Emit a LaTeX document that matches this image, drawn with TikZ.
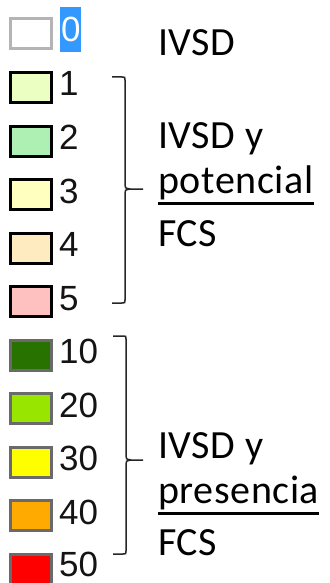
\documentclass[tikz,border=0pt]{standalone}
\usepackage{fontspec}
\setmainfont{Carlito}
\newfontfamily\digfont{Liberation Sans}
\newfontfamily\lblfont[LetterSpace=1.5]{Carlito}
\definecolor{cA}{HTML}{EBFFC3}
\definecolor{cB}{HTML}{AEF0B4}
\definecolor{cC}{HTML}{FFFFC0}
\definecolor{cD}{HTML}{FFEBC0}
\definecolor{cE}{HTML}{FFC0C0}
\definecolor{cF}{HTML}{287300}
\definecolor{cG}{HTML}{98E600}
\definecolor{cH}{HTML}{FFFF00}
\definecolor{cI}{HTML}{FFAA00}
\definecolor{cJ}{HTML}{FF0000}
\definecolor{hiblue}{HTML}{3399FF}
\definecolor{gborder}{HTML}{6A6A6A}
\definecolor{lborder}{HTML}{B4B4B4}
\begin{document}
\begin{tikzpicture}[x=1pt,y=-1pt,
  swatch/.style={draw, line width=3pt, minimum width=41pt, minimum height=30pt, inner sep=0pt, anchor=north west},
  digit/.style={font=\digfont\fontsize{35}{35}\selectfont, text=black!92, inner sep=0pt, anchor=base west},
  lbl/.style={font=\lblfont\fontsize{40}{40}\selectfont, text=black, inner sep=0pt, anchor=base west},
  bracestyle/.style={line width=1.5pt, draw=black!85}]
\useasboundingbox (0,0) rectangle (329,583);
% highlight behind 0
\fill[hiblue] (60,7) rectangle (81,52);
% swatches
\node[swatch, draw=lborder, fill=white] (s0) at (8.5,17.5) {};
\node[swatch, draw=black, fill=cA] (s1) at (8.5,71) {};
\node[swatch, draw=black, fill=cB] (s2) at (8.5,124.5) {};
\node[swatch, draw=black, fill=cC] (s3) at (8.5,178) {};
\node[swatch, draw=black, fill=cD] (s4) at (8.5,231.5) {};
\node[swatch, draw=black, fill=cE] (s5) at (8.5,285) {};
\node[swatch, draw=gborder, fill=cF] (s10) at (8.5,338.5) {};
\node[swatch, draw=gborder, fill=cG] (s20) at (8.5,392) {};
\node[swatch, draw=gborder, fill=cH] (s30) at (8.5,445.5) {};
\node[swatch, draw=gborder, fill=cI] (s40) at (8.5,499) {};
\node[swatch, draw=gborder, fill=cJ] (s50) at (8.5,552.5) {};
% digits
\node[digit, text=white] (d0) at (61,42) {0};
\node[digit] (d1) at (59,96) {1};
\node[digit] (d2) at (59,149.5) {2};
\node[digit] (d3) at (59,203) {3};
\node[digit] (d4) at (59,256.5) {4};
\node[digit] (d5) at (59,310) {5};
\node[digit] (d10) at (59,363.5) {10};
\node[digit] (d20) at (59,417) {20};
\node[digit] (d30) at (59,470.5) {30};
\node[digit] (d40) at (59,524) {40};
\node[digit] (d50) at (59,576.5) {50};
% labels
\node[lbl] (t0) at (158,56) {IVSD};
\node[lbl] (t1a) at (158,148) {IVSD y};
\node[lbl] (t1b) at (158,193) {potencial};
\node[lbl] (t1c) at (158,246) {FCS};
\node[lbl] (t2a) at (158,458) {IVSD y};
\node[lbl] (t2b) at (158,503) {presencia};
\node[lbl] (t2c) at (158,555) {FCS};
\draw[line width=3pt] ([yshift=-10pt]t1b.base west) -- ([yshift=-10pt]t1b.base east);
\draw[line width=3pt] ([yshift=-10pt]t2b.base west) -- ([yshift=-10pt]t2b.base east);
% braces
\coordinate (b1tip) at (143,189);
\coordinate (b2tip) at (143,460);
\draw[bracestyle] (112,77) -- (122,77) .. controls (125,77) .. (125,80) -- (125,185)
  .. controls (125,188) .. (130,189) -- (b1tip);
\draw[bracestyle] (112,303) -- (122,303) .. controls (125,303) .. (125,300) -- (125,193)
  .. controls (125,190) .. (130,189);
\draw[bracestyle] (113,336) -- (123,336) .. controls (126,336) .. (126,339) -- (126,456)
  .. controls (126,459) .. (131,460) -- (b2tip);
\draw[bracestyle] (113,554) -- (123,554) .. controls (126,554) .. (126,551) -- (126,464)
  .. controls (126,461) .. (131,460);
\end{tikzpicture}
\end{document}
